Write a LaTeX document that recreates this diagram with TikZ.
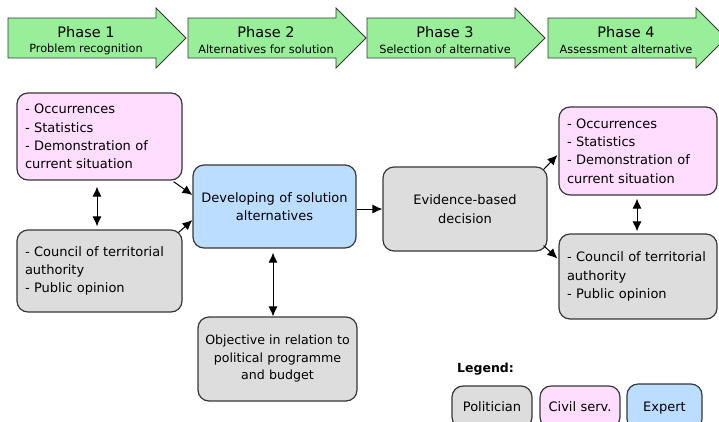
\documentclass[tikz,border=0pt]{standalone}
\usepackage{fontspec}
\setmainfont{DejaVu Sans}
\usetikzlibrary{arrows.meta,calc}
\definecolor{phgreen}{RGB}{153,238,153}
\definecolor{civpink}{RGB}{255,221,255}
\definecolor{expblue}{RGB}{187,221,255}
\definecolor{polgray}{RGB}{221,221,221}
\definecolor{edge}{RGB}{55,55,55}
\tikzset{
  box/.style={draw=edge, line width=1.2pt, rounded corners=11pt, inner xsep=8pt, inner ysep=2pt,
    font=\fontsize{13}{18.3}\selectfont},
  listbox/.style={box, align=left},
  midbox/.style={box, align=center},
  phasearrow/.style={draw=edge, line width=0.9pt, fill=phgreen},
  phtitle/.style={font=\fontsize{14.5}{16}\selectfont, inner sep=0pt},
  phsub/.style={font=\fontsize{11.3}{12}\selectfont, inner sep=0pt},
  conn/.style={line width=1pt, -{Latex[length=10pt,width=9pt]}},
  dconn/.style={line width=1pt, {Latex[length=10pt,width=9pt]}-{Latex[length=10pt,width=9pt]}},
}
\begin{document}
\begin{tikzpicture}[x=1pt,y=-1pt]
\useasboundingbox (0,0) rectangle (719,421);
\clip (0,0) rectangle (719,421);
% phase arrows
\foreach \x/\n/\t/\s in {8/1/Phase 1/Problem recognition,188/2/Phase 2/Alternatives for solution,367/3/Phase 3/Selection of alternative,548/4/Phase 4/Assessment alternative}{
  \draw[phasearrow] (\x,18) -- (\x+148,18) -- (\x+148,8) -- (\x+178,38) -- (\x+148,68) -- (\x+148,58) -- (\x,58) -- cycle;
  \node[phtitle] (pht\n) at (\x+78,32) {\t};
  \node[phsub] (phs\n) at (\x+78,49) {\s};
}
% boxes
\node[listbox, fill=civpink, text width=149pt, minimum height=87pt] (pinkL) at (99.5,136.5)
  {- Occurrences\\- Statistics\\- Demonstration of\\current situation};
\node[listbox, fill=polgray, text width=149pt, minimum height=82pt] (grayL) at (99.5,271)
  {- Council of territorial\\authority\\- Public opinion};
\node[midbox, fill=expblue, text width=147pt, minimum height=83pt] (blue) at (274.5,206.5)
  {Developing of solution\\alternatives};
\node[midbox, fill=polgray, text width=148pt, minimum height=84pt] (evid) at (465,209)
  {Evidence-based\\decision};
\node[midbox, fill=polgray, text width=153pt, inner xsep=3pt, minimum height=84pt, font=\fontsize{12.6}{17.5}\selectfont] (obj) at (277.5,359)
  {Objective in relation to\\political programme\\and budget};
\node[listbox, fill=civpink, text width=142pt, minimum height=88pt] (pinkR) at (638,151)
  {- Occurrences\\- Statistics\\- Demonstration of\\current situation};
\node[listbox, fill=polgray, text width=142pt, minimum height=85pt] (grayR) at (638,276.5)
  {- Council of territorial\\authority\\- Public opinion};
% legend
\node[anchor=west, inner sep=0pt, font=\bfseries\fontsize{12.5}{14}\selectfont] (leg) at (457,369) {Legend:};
\node[midbox, fill=polgray, text width=64pt, minimum height=42pt, inner xsep=8pt, text depth=0pt] (lpol) at (492,407) {Politician};
\node[midbox, fill=civpink, text width=64pt, minimum height=42pt, inner xsep=8pt, text depth=0pt] (lciv) at (580,407) {Civil serv.};
\node[midbox, fill=expblue, text width=59pt, minimum height=46pt, inner xsep=8pt, text depth=0pt] (lexp) at (664.5,407) {Expert};
% connectors
\draw[dconn] ($(pinkL.south)+(-2.5,6)$) -- ($(grayL.north)+(-2.5,-3)$);
\draw[conn] ($(pinkL.south east)+(-9,1)$) -- ($(blue.west)+(0,-11.5)$);
\draw[conn] ($(grayL.north east)+(-4,3)$) -- ($(blue.west)+(0,13.5)$);
\draw[conn] (blue.east|-evid.west) -- (evid.west);
\draw[dconn] ($(blue.south)+(-1.5,4)$) -- ($(obj.north -| blue.south)+(-1.5,0)$);
\draw[conn] ($(evid.north east)+(-4,3)$) -- ($(pinkR.west)+(-1,4)$);
\draw[conn] ($(evid.south east)+(-4,-6)$) -- ($(grayR.west)+(-1,-18)$);
\draw[dconn] ($(pinkR.south)+(-1,3)$) -- ($(grayR.north)+(-1,-2)$);
\end{tikzpicture}
\end{document}
